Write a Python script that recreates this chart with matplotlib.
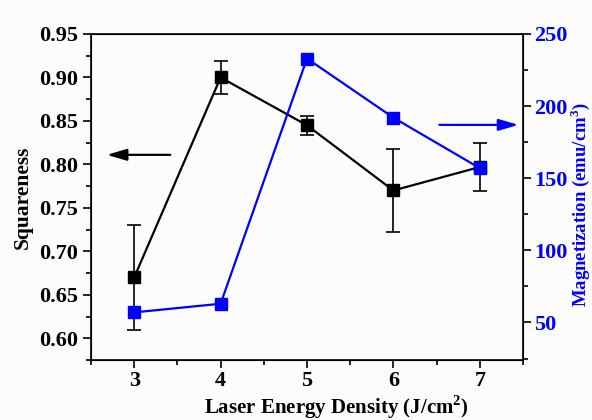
import matplotlib.pyplot as plt
from matplotlib.ticker import MultipleLocator

plt.rcParams['font.family'] = ['Liberation Serif', 'DejaVu Serif']
plt.rcParams['font.weight'] = 'bold'
plt.rcParams['mathtext.fontset'] = 'custom'
plt.rcParams['mathtext.rm'] = 'Liberation Serif:bold'
plt.rcParams['mathtext.bf'] = 'Liberation Serif:bold'

energy = [3, 4, 5, 6, 7]
squareness = [0.67, 0.90, 0.845, 0.77, 0.797]
sq_err = [0.06, 0.019, 0.011, 0.048, 0.028]
magnetization = [57, 63, 233, 192, 157]

fig = plt.figure(figsize=(5.92, 4.2), dpi=100, facecolor='#fcfcfc')
ax = fig.add_axes([91/592, 60/420, 432/592, 326/420])
ax.set_facecolor('#fcfcfc')

ax.errorbar(energy, squareness, yerr=sq_err, color='black', marker='s',
            markersize=9, linewidth=1.6, capsize=5, elinewidth=1.2,
            capthick=1.2, zorder=3)
ax.set_xlim(2.5, 7.5)
ax.set_ylim(0.575, 0.95)
ax.xaxis.set_major_locator(MultipleLocator(1))
ax.xaxis.set_minor_locator(MultipleLocator(0.5))
ax.yaxis.set_major_locator(MultipleLocator(0.05))
ax.yaxis.set_minor_locator(MultipleLocator(0.025))
ax.tick_params(which='both', direction='out', width=1.2, labelsize=16, pad=3)
ax.tick_params(axis='x', pad=2)
ax.tick_params(which='major', length=6)
ax.tick_params(which='minor', length=3.5)
ax.yaxis.set_major_formatter(plt.FormatStrFormatter('%.2f'))
ax.set_ylabel('Squareness', fontsize=15.5, fontweight='bold', labelpad=5)
for s in ax.spines.values():
    s.set_linewidth(1.2)
fig.text(336/592, 1 - 407/420, 'Laser Energy Density (J/cm$^2$)', fontsize=15,
         fontweight='bold', ha='center', va='center')

ax2 = ax.twinx()
ax2.plot(energy, magnetization, color='blue', marker='s', markersize=9,
         linewidth=1.6, zorder=3)
ax2.set_ylim(24, 250)
ax2.yaxis.set_major_locator(MultipleLocator(50))
ax2.yaxis.set_minor_locator(MultipleLocator(25))
ax2.tick_params(which='both', direction='out', width=1.2, labelsize=16,
                labelcolor='blue', color='black', pad=2)
ax2.tick_params(which='major', length=6)
ax2.tick_params(which='minor', length=3.5)
fig.text(580/592, 1 - 205/420, 'Magnetization (emu/cm$^3$)', fontsize=13.5,
         fontweight='bold', color='blue', rotation=90, ha='center', va='center')

ax.annotate('', xy=(2.65, 0.811), xytext=(3.45, 0.811),
            arrowprops=dict(arrowstyle='-|>,head_length=1.2,head_width=0.35',
                            color='black', lw=1.6))
ax2.annotate('', xy=(7.48, 187), xytext=(6.5, 187),
             arrowprops=dict(arrowstyle='-|>,head_length=1.2,head_width=0.35',
                             color='blue', lw=1.6))

fig.savefig('out.png', dpi=100, facecolor=fig.get_facecolor())
